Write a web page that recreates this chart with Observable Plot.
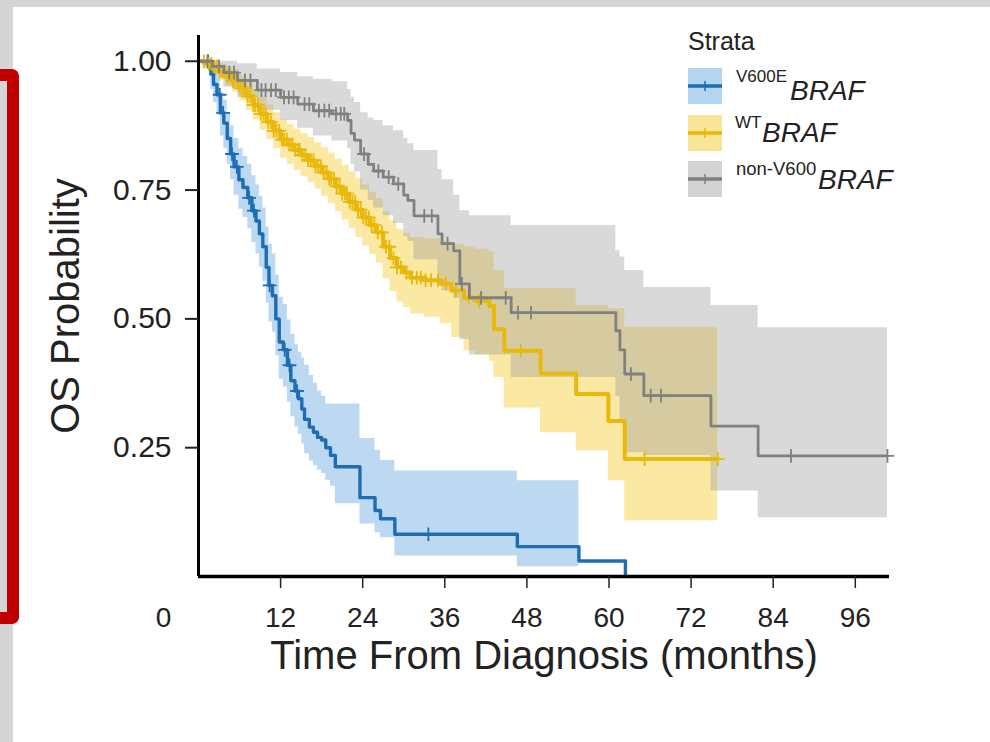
<!DOCTYPE html>
<html>
<head>
<meta charset="utf-8">
<script src="https://cdn.jsdelivr.net/npm/d3@7"></script>
<script src="https://cdn.jsdelivr.net/npm/@observablehq/plot@0.6"></script>
<style>
  body { margin: 0; }
  #page { position: relative; width: 990px; height: 742px; background: #d5d5d5; overflow: hidden; font-family: "Liberation Sans", Arial, sans-serif; }
  #panel { position: absolute; left: 13px; top: 7px; right: 0; bottom: 0; background: #ffffff; }
  #redbox { position: absolute; left: -30px; top: 69px; width: 49px; height: 555px; box-sizing: border-box; border: 12px solid #c00000; border-radius: 7px; }
  #chart { position: absolute; left: 0; top: 0; }
  #legend { position: absolute; left: 0; top: 0; pointer-events: none; }
</style>
</head>
<body>
<div id="page">
  <div id="panel"></div>
  <div id="redbox"></div>
  <div id="chart"></div>
  <svg id="legend" width="990" height="742"></svg>
</div>
<script>
// ---------- Data ----------
const strata = ["V600E BRAF", "WT BRAF", "non-V600 BRAF"];
const xTicks = [12, 24, 36, 48, 60, 72, 84, 96];
const yTicks = [0.25, 0.50, 0.75, 1.00];

// V600E BRAF
const v600eTime  = [0, 1.8, 2.2, 2.7, 3.2, 3.7, 4.2, 4.7, 5.2, 5.9, 6.5, 7.2, 7.8, 8.4, 8.9, 9.4, 9.9, 10.3, 10.8, 11.3, 11.8, 12.4, 13.0, 13.5, 14.1, 14.6, 15.1, 15.5, 16.2, 16.8, 17.4, 18.0, 18.6, 19.3, 20.0, 23.6, 25.8, 26.6, 28.7, 46.6, 55.6, 62.4];
const v600eSurv  = [1, .975, .955, .935, .90, .88, .85, .82, .795, .77, .755, .735, .71, .69, .665, .64, .60, .565, .545, .50, .455, .44, .41, .38, .36, .345, .325, .305, .29, .28, .27, .265, .25, .235, .213, .153, .128, .112, .082, .058, .03, 0];
const v600eLower = [1, .945, .92, .895, .855, .83, .80, .77, .74, .713, .697, .675, .648, .626, .60, .573, .531, .494, .474, .428, .383, .368, .338, .31, .29, .276, .257, .238, .224, .215, .206, .20, .187, .175, .141, .102, .085, .075, .04, .019, .019, null];
const v600eUpper = [1, .995, .985, .97, .94, .925, .90, .875, .85, .83, .815, .80, .778, .76, .738, .715, .678, .645, .626, .585, .542, .528, .498, .47, .45, .435, .424, .41, .39, .375, .36, .35, .335, .335, .335, .268, .245, .225, .205, .186, .186, null];
const v600eCensor = [1.4, 3.1, 3.6, 4.9, 5.6, 7.4, 8.1, 10.4, 12.6, 13.3, 14.4, 33.6];

// WT BRAF
const wtTime  = [0, 1, 2, 3, 4, 5, 6, 7, 8, 9, 10, 11, 12, 13, 14, 15, 16, 17, 18, 19, 20, 21, 22, 23, 24, 25, 26, 27, 28, 29, 30, 31, 33, 35.4, 37, 38.8, 40.5, 42.5, 43.2, 44.7, 50.0, 55.2, 59.9, 62.3, 75.9];
const wtSurv  = [1, .995, .99, .98, .972, .962, .948, .932, .915, .898, .882, .865, .848, .838, .828, .818, .808, .796, .784, .772, .757, .743, .727, .712, .697, .682, .668, .64, .618, .60, .59, .58, .575, .568, .555, .541, .535, .525, .48, .438, .394, .354, .302, .228, .228];
const wtLower = [1, .985, .975, .963, .952, .94, .923, .905, .886, .866, .848, .83, .812, .80, .788, .777, .765, .752, .738, .724, .708, .692, .675, .658, .642, .625, .608, .578, .553, .533, .522, .51, .503, .491, .464, .438, .43, .418, .386, .327, .279, .244, .186, .108, .108];
const wtUpper = [1, 1, 1, .995, .99, .984, .973, .96, .945, .93, .915, .90, .886, .877, .868, .86, .852, .842, .832, .822, .81, .798, .785, .772, .76, .746, .733, .708, .69, .674, .666, .658, .655, .65, .645, .64, .635, .63, .594, .559, .559, .526, .52, .484, .484];
const wtCensor = [0.8, 1.5, 1.9, 2.3, 2.7, 3.1, 3.5, 3.8, 4.2, 4.6, 5.0, 5.3, 5.7, 6.1, 6.5, 6.8, 7.2, 7.6, 8.0, 8.3, 8.7, 9.1, 9.5, 9.8, 10.2, 10.6, 11.0, 11.4, 11.8, 12.2, 12.5, 12.9, 13.3, 13.7, 14.1, 14.5, 14.8, 15.2, 15.6, 16.0, 16.4, 16.8, 17.1, 17.5, 17.9, 18.3, 18.7, 19.1, 19.4, 19.8, 20.2, 20.6, 21.0, 21.4, 21.7, 22.1, 22.5, 22.9, 23.3, 23.7, 24.1, 24.5, 24.9, 25.3, 25.7, 26.2, 26.8, 27.4, 27.9, 28.5, 29.0, 29.6, 30.4, 31.2, 31.9, 32.5, 33.2, 34.0, 35.0, 36.2, 37.6, 39.5, 41.0, 47.1, 65.2, 75.9];

// non-V600 BRAF
const nonTime  = [0, 2.0, 3.7, 5.7, 8.6, 12.0, 14.5, 16.8, 19.5, 21.8, 22.3, 22.8, 23.7, 24.8, 25.6, 27.0, 28.5, 30.0, 30.6, 31.5, 35.0, 35.6, 37.3, 38.2, 39.6, 45.7, 61.0, 61.6, 62.3, 65.1, 74.9, 81.8, 100.7];
const nonSurv  = [1, .99, .978, .963, .944, .93, .917, .904, .898, .885, .86, .847, .82, .80, .787, .775, .762, .74, .73, .70, .665, .646, .632, .568, .541, .512, .477, .44, .393, .351, .292, .234, .234];
const nonLower = [1, .97, .95, .93, .905, .885, .87, .855, .845, .83, .80, .785, .75, .73, .715, .70, .685, .66, .65, .615, .575, .555, .54, .46, .43, .386, .35, .30, .24, .235, .166, .114, .114];
const nonUpper = [1, 1, 1, .995, .985, .978, .97, .965, .96, .945, .93, .92, .90, .89, .885, .875, .865, .85, .84, .827, .79, .77, .74, .71, .70, .681, .632, .62, .594, .561, .526, .483, .483];
const nonCensor = [1.3, 3.0, 4.5, 5.2, 6.8, 7.6, 9.2, 9.8, 10.6, 11.3, 12.5, 13.2, 13.9, 15.5, 16.2, 17.6, 18.4, 19.1, 20.1, 20.8, 21.3, 24.2, 26.3, 27.8, 29.2, 33.0, 34.1, 36.4, 38.5, 41.3, 44.9, 46.7, 48.6, 63.2, 66.1, 67.6, 86.6, 100.7];

// ---------- Styles ----------
const lineColor = {"V600E BRAF": "#1c6db4", "WT BRAF": "#e8b80b", "non-V600 BRAF": "#808080"};
const bandColor = {"V600E BRAF": "#3d8fd6", "WT BRAF": "#f0c000", "non-V600 BRAF": "#9a9a9a"};
const bandOpacity = {"V600E BRAF": 0.34, "WT BRAF": 0.36, "non-V600 BRAF": 0.38};
const lineWidth = {"V600E BRAF": 3.4, "WT BRAF": 4, "non-V600 BRAF": 2.8};

// ---------- Build tables ----------
function rows(name, time, surv, lower, upper) {
  return time.map((t, i) => ({strata: name, t, s: surv[i], lo: lower[i], hi: upper[i]}));
}
function censorRows(name, time, surv, cens) {
  return cens.map(c => {
    let s = surv[0];
    for (let i = 0; i < time.length; i++) if (time[i] <= c) s = surv[i];
    return {strata: name, t: c, s};
  });
}
const series = [
  {name: strata[0], data: rows(strata[0], v600eTime, v600eSurv, v600eLower, v600eUpper), cens: censorRows(strata[0], v600eTime, v600eSurv, v600eCensor)},
  {name: strata[1], data: rows(strata[1], wtTime, wtSurv, wtLower, wtUpper), cens: censorRows(strata[1], wtTime, wtSurv, wtCensor)},
  {name: strata[2], data: rows(strata[2], nonTime, nonSurv, nonLower, nonUpper), cens: censorRows(strata[2], nonTime, nonSurv, nonCensor)}
];

const font = '"Liberation Sans", Arial, sans-serif';
const marks = [];
for (const sr of series) {
  marks.push(Plot.areaY(sr.data, {x: "t", y1: "lo", y2: "hi", curve: "step-after", fill: bandColor[sr.name], fillOpacity: bandOpacity[sr.name]}));
}
for (const sr of series) {
  marks.push(Plot.line(sr.data, {x: "t", y: "s", curve: "step-after", stroke: lineColor[sr.name], strokeWidth: lineWidth[sr.name]}));
  marks.push(Plot.dot(sr.cens, {x: "t", y: "s", symbol: "plus", r: 4.5, stroke: lineColor[sr.name], strokeWidth: 1.8}));
}
marks.push(
  Plot.ruleX([0], {stroke: "#000", strokeWidth: 3}),
  Plot.ruleY([0], {stroke: "#000", strokeWidth: 3.5}),
  Plot.axisY(yTicks, {tickSize: 13, tickPadding: 14, fontSize: 30, tickFormat: d3.format(".2f"), label: null, strokeWidth: 2, color: "#222"}),
  Plot.axisX(xTicks, {tickSize: 12, tickPadding: 19, fontSize: 28, label: null, strokeWidth: 1.5, color: "#222"}),
  Plot.axisX([0], {tickSize: 0, tickPadding: 31, dx: -35, fontSize: 28, label: null, color: "#222"}),
  Plot.text(["OS Probability"], {frameAnchor: "left", textAnchor: "middle", lineAnchor: "middle", rotate: -90, dx: -132, fontSize: 40, fill: "#222"}),
  Plot.text(["Time From Diagnosis (months)"], {frameAnchor: "bottom", textAnchor: "middle", lineAnchor: "middle", dy: 80, fontSize: 40, fill: "#222"})
);

const chart = Plot.plot({
  width: 990,
  height: 742,
  marginLeft: 198,
  marginRight: 101,
  marginTop: 35,
  marginBottom: 166,
  x: {domain: [0, 101]},
  y: {domain: [0, 1.05]},
  style: {background: "transparent", fontFamily: font, color: "#222"},
  marks
});
document.getElementById("chart").appendChild(chart);

// ---------- Legend ----------
const legendTitle = "Strata";
const legendSup = ["V600E", "WT", "non-V600"];
const legendGene = "BRAF";
const lg = d3.select("#legend").style("font-family", font);
lg.append("text").attr("x", 688).attr("y", 50).attr("font-size", 25).attr("fill", "#222").text(legendTitle);
const swY = [68, 115, 161];
const supX = [736, 735, 736];
const geneX = [790, 762, 818];
const supBase = [82, 128, 175];
const geneBase = [100, 142, 189];
const supSize = [17, 17, 18.5];
strata.forEach((name, i) => {
  const g = lg.append("g");
  g.append("rect").attr("x", 688).attr("y", swY[i]).attr("width", 34).attr("height", 36)
    .attr("fill", bandColor[name]).attr("fill-opacity", bandOpacity[name] + 0.05);
  g.append("line").attr("x1", 688).attr("x2", 722).attr("y1", swY[i] + 18).attr("y2", swY[i] + 18)
    .attr("stroke", lineColor[name]).attr("stroke-width", 3.5);
  g.append("line").attr("x1", 705).attr("x2", 705).attr("y1", swY[i] + 13).attr("y2", swY[i] + 23)
    .attr("stroke", lineColor[name]).attr("stroke-width", 1.5);
  g.append("text").attr("x", supX[i]).attr("y", supBase[i]).attr("font-size", supSize[i]).attr("fill", "#222").text(legendSup[i]);
  g.append("text").attr("x", geneX[i]).attr("y", geneBase[i]).attr("font-size", 28).attr("font-style", "italic").attr("fill", "#222").text(legendGene);
});
</script>
</body>
</html>
